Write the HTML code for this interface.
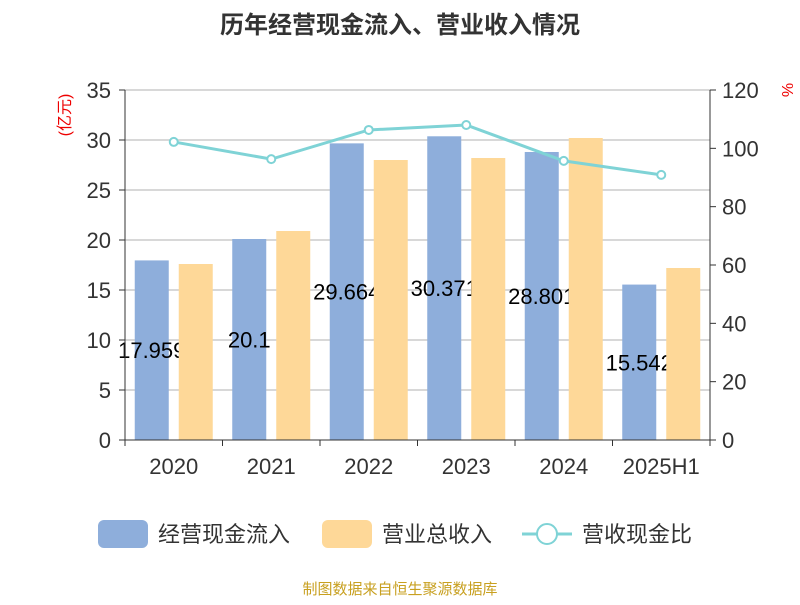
<!DOCTYPE html>
<html><head><meta charset="utf-8"><style>
body{margin:0;background:#fff;font-family:"Liberation Sans","Noto Sans CJK SC",sans-serif}
svg text{font-family:"Liberation Sans","Noto Sans CJK SC",sans-serif}
</style></head><body>
<svg id="c" width="800" height="600">
<text x="400" y="33" text-anchor="middle" font-size="24" font-weight="bold" fill="#333">历年经营现金流入、营业收入情况</text>
<text x="70" y="115" font-size="16" fill="#e00" transform="rotate(-90 70 115)" text-anchor="middle">(亿元)</text>
<text x="782" y="90" font-size="16" fill="#e00" transform="rotate(90 782 90)" text-anchor="middle">%</text>
<g id="grid"></g><g id="bars"></g><g id="labels"></g><g id="bars2"></g><g id="axes"></g><g id="line"></g>
<g>
<rect x="98" y="520" width="50" height="28" rx="6" fill="#8eaedb"/>
<text x="158" y="542" font-size="22" fill="#333">经营现金流入</text>
<rect x="322" y="520" width="50" height="28" rx="6" fill="#fed898"/>
<text x="382" y="542" font-size="22" fill="#333">营业总收入</text>
<line x1="522" y1="534" x2="572" y2="534" stroke="#7fd3d6" stroke-width="3"/>
<circle cx="547" cy="534" r="10" fill="#fff" stroke="#7fd3d6" stroke-width="2"/>
<text x="582" y="542" font-size="22" fill="#333">营收现金比</text>
</g>
<text x="400" y="594" text-anchor="middle" font-size="15" fill="#c8a020">制图数据来自恒生聚源数据库</text>
</svg>
<script>
const categories=["2020","2021","2022","2023","2024","2025H1"];
const cashIn=[17.959,20.1,29.664,30.371,28.801,15.542];
const revenue=[17.6,20.9,28.0,28.2,30.2,17.2];
const ratio=[102.2,96.3,106.3,108,95.7,90.9];
const cashLabels=["17.959","20.1","29.664","30.371","28.801","15.542"];
const leftTicks=[0,5,10,15,20,25,30,35];
const rightTicks=[0,20,40,60,80,100,120];
const L=125,R=710,T=90,B=440,NS="http://www.w3.org/2000/svg";
const yL=v=>B-(v/35)*(B-T), yR=v=>B-(v/120)*(B-T);
const gw=(R-L)/categories.length, xc=i=>L+gw*(i+0.5);
function mk(p,tag,a){const e=document.createElementNS(NS,tag);for(const k in a)e.setAttribute(k,a[k]);document.getElementById(p).appendChild(e);return e;}
leftTicks.forEach(v=>{
 if(v>0){const g=mk("grid","line",{x1:L,x2:R,y1:yL(v),y2:yL(v),stroke:"#ccc","stroke-width":1.5});
 
 }
 const t=mk("axes","text",{x:L-14,y:yL(v)+8,"text-anchor":"end","font-size":22,fill:"#333"});t.textContent=v;
 
 
 mk("axes","line",{x1:L-6,x2:L,y1:yL(v),y2:yL(v),stroke:"#333"});
});
rightTicks.forEach(v=>{
 const t=mk("axes","text",{x:R+12,y:yR(v)+8,"font-size":22,fill:"#333"});t.textContent=v;
 
 
 mk("axes","line",{x1:R,x2:R+6,y1:yR(v),y2:yR(v),stroke:"#333"});
});
mk("axes","line",{x1:L,x2:L,y1:T,y2:B,stroke:"#333"});
mk("axes","line",{x1:R,x2:R,y1:T,y2:B,stroke:"#333"});
mk("axes","line",{x1:L,x2:R,y1:B,y2:B,stroke:"#333"});
categories.forEach((c,i)=>{
 const x=xc(i),bw=34;
 const b=mk("bars","rect",{x:x-22-bw/2,y:yL(cashIn[i]),width:bw,height:B-yL(cashIn[i]),fill:"#8eaedb"});
 
 
 const o=mk("bars2","rect",{x:x+22-bw/2,y:yL(revenue[i]),width:bw,height:B-yL(revenue[i]),fill:"#fed898"});
 
 
 const l=mk("labels","text",{x:x-22,y:(yL(cashIn[i])+B)/2+8,"text-anchor":"middle","font-size":22,fill:"#000"});l.textContent=cashLabels[i];
 
 
 const t=mk("axes","text",{x:x,y:474,"text-anchor":"middle","font-size":22,fill:"#333"});t.textContent=c;
 
 
 mk("axes","line",{x1:L+gw*i,x2:L+gw*i,y1:B,y2:B+6,stroke:"#333"});
});
mk("axes","line",{x1:R,x2:R,y1:B,y2:B+6,stroke:"#333"});
const pts=ratio.map((v,i)=>(xc(i))+","+yR(v)).join(" ");
const pl=mk("line","polyline",{points:pts,fill:"none",stroke:"#7fd3d6","stroke-width":3});


ratio.forEach((v,i)=>{const c=mk("line","circle",{cx:xc(i),cy:yR(v),r:4,fill:"#fff",stroke:"#7fd3d6","stroke-width":2});
 
 });
</script>
</body></html>
